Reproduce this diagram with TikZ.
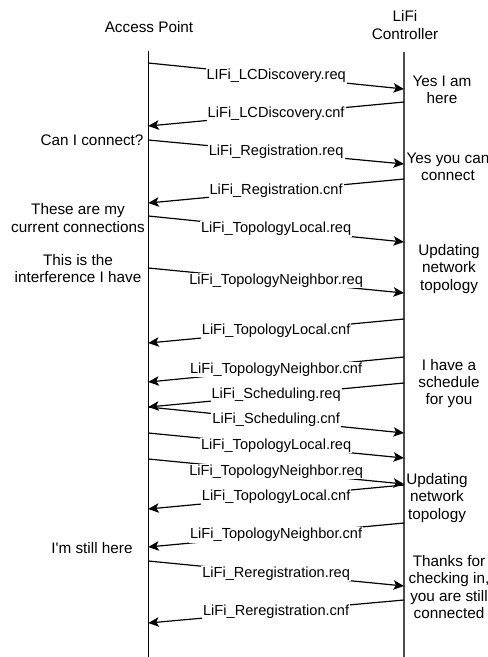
\documentclass[tikz,border=0pt]{standalone}
\usepackage{fontspec}
\setmainfont{Liberation Sans}
\usetikzlibrary{arrows.meta}
\begin{document}
\begin{tikzpicture}[x=1pt,y=-1pt,
  txt/.style={font=\fontsize{15.3}{17.3}\selectfont, inner sep=0pt, align=center},
  lbl/.style={font=\fontsize{14.6}{17}\selectfont, fill=white, inner sep=1pt},
  life/.style={line width=1.3pt},
  msg/.style={line width=1.2pt, -{Stealth[length=10.5pt,width=9.5pt,inset=2.5pt]}}]
\useasboundingbox (0,0) rectangle (488,657);

% participants
\node[txt] (ap) at (149,27) {Access Point};
\node[txt] (lc) at (405,25) {LiFi\\Controller};

% lifelines
\coordinate (apTop) at (148.3,51);
\coordinate (apBot) at (148.3,660);
\coordinate (lcTop) at (404,52);
\coordinate (lcBot) at (404,660);
\draw[life] (apTop) -- (apBot);
\draw[life, black!70] (lcTop) -- (lcBot);

% message end points
\coordinate (m1s) at (148.3,63);   \coordinate (m1e) at (404,89);
\coordinate (m2s) at (404,102);    \coordinate (m2e) at (148.3,126);
\coordinate (m3s) at (148.3,140);  \coordinate (m3e) at (404,164);
\coordinate (m4s) at (404,179);    \coordinate (m4e) at (148.3,203);
\coordinate (m5s) at (148.3,216);  \coordinate (m5e) at (404,242);
\coordinate (m6s) at (148.3,268);  \coordinate (m6e) at (404,293);
\coordinate (m7s) at (404,319);    \coordinate (m7e) at (148.3,343);
\coordinate (m8s) at (404,357);    \coordinate (m8e) at (148.3,382);
\coordinate (m9s) at (404,383);    \coordinate (m9e) at (148.3,407);
\coordinate (m10s) at (148.3,407); \coordinate (m10e) at (404,433);
\coordinate (m11s) at (148.3,433); \coordinate (m11e) at (404,458);
\coordinate (m12s) at (148.3,459); \coordinate (m12e) at (404,484);
\coordinate (m13s) at (404,485);   \coordinate (m13e) at (148.3,509);
\coordinate (m14s) at (404,523);   \coordinate (m14e) at (148.3,547);
\coordinate (m15s) at (148.3,561); \coordinate (m15e) at (404,586);
\coordinate (m16s) at (404,600);   \coordinate (m16e) at (148.3,623);

% messages
\draw[msg] (m1s) -- node[lbl] {LIFi\_LCDiscovery.req} (m1e);
\draw[msg] (m2s) -- node[lbl] {LiFi\_LCDiscovery.cnf} (m2e);
\draw[msg] (m3s) -- node[lbl] {LiFi\_Registration.req} (m3e);
\draw[msg] (m4s) -- node[lbl] {LiFi\_Registration.cnf} (m4e);
\draw[msg] (m5s) -- node[lbl] {LiFi\_TopologyLocal.req} (m5e);
\draw[msg] (m6s) -- node[lbl] {LiFi\_TopologyNeighbor.req} (m6e);
\draw[msg] (m7s) -- node[lbl] {LiFi\_TopologyLocal.cnf} (m7e);
\draw[msg] (m8s) -- node[lbl] {LiFi\_TopologyNeighbor.cnf} (m8e);
\draw[msg] (m9s) -- node[lbl] {LiFi\_Scheduling.req} (m9e);
\draw[msg] (m10s) -- node[lbl] {LiFi\_Scheduling.cnf} (m10e);
\draw[msg] (m11s) -- node[lbl] {LiFi\_TopologyLocal.req} (m11e);
\draw[msg] (m12s) -- node[lbl] {LiFi\_TopologyNeighbor.req} (m12e);
\draw[msg] (m13s) -- node[lbl] {LiFi\_TopologyLocal.cnf} (m13e);
\draw[msg] (m14s) -- node[lbl] {LiFi\_TopologyNeighbor.cnf} (m14e);
\draw[msg] (m15s) -- node[lbl] {LiFi\_Reregistration.req} (m15e);
\draw[msg] (m16s) -- node[lbl] {LiFi\_Reregistration.cnf} (m16e);

% access point remarks
\node[txt] (n1) at (92,140) {Can I connect?};
\node[txt] (n2) at (78,218) {These are my\\current connections};
\node[txt] (n3) at (78,268.5) {This is the\\interference I have};
\node[txt] (n4) at (92,548) {I\textquotesingle m still here};

% controller remarks
\node[txt] (c1) at (442,90) {Yes I am\\here};
\node[txt] (c2) at (448,166.5) {Yes you can\\connect};
\node[txt] (c3) at (449,269) {Updating\\network\\topology};
\node[txt] (c4) at (449,383.5) {I have a\\schedule\\for you};
\node[txt] (c5) at (437,498) {Updating\\network\\topology};
\node[txt] (c6) at (449,587) {Thanks for\\checking in,\\you are still\\connected};
\end{tikzpicture}
\end{document}
